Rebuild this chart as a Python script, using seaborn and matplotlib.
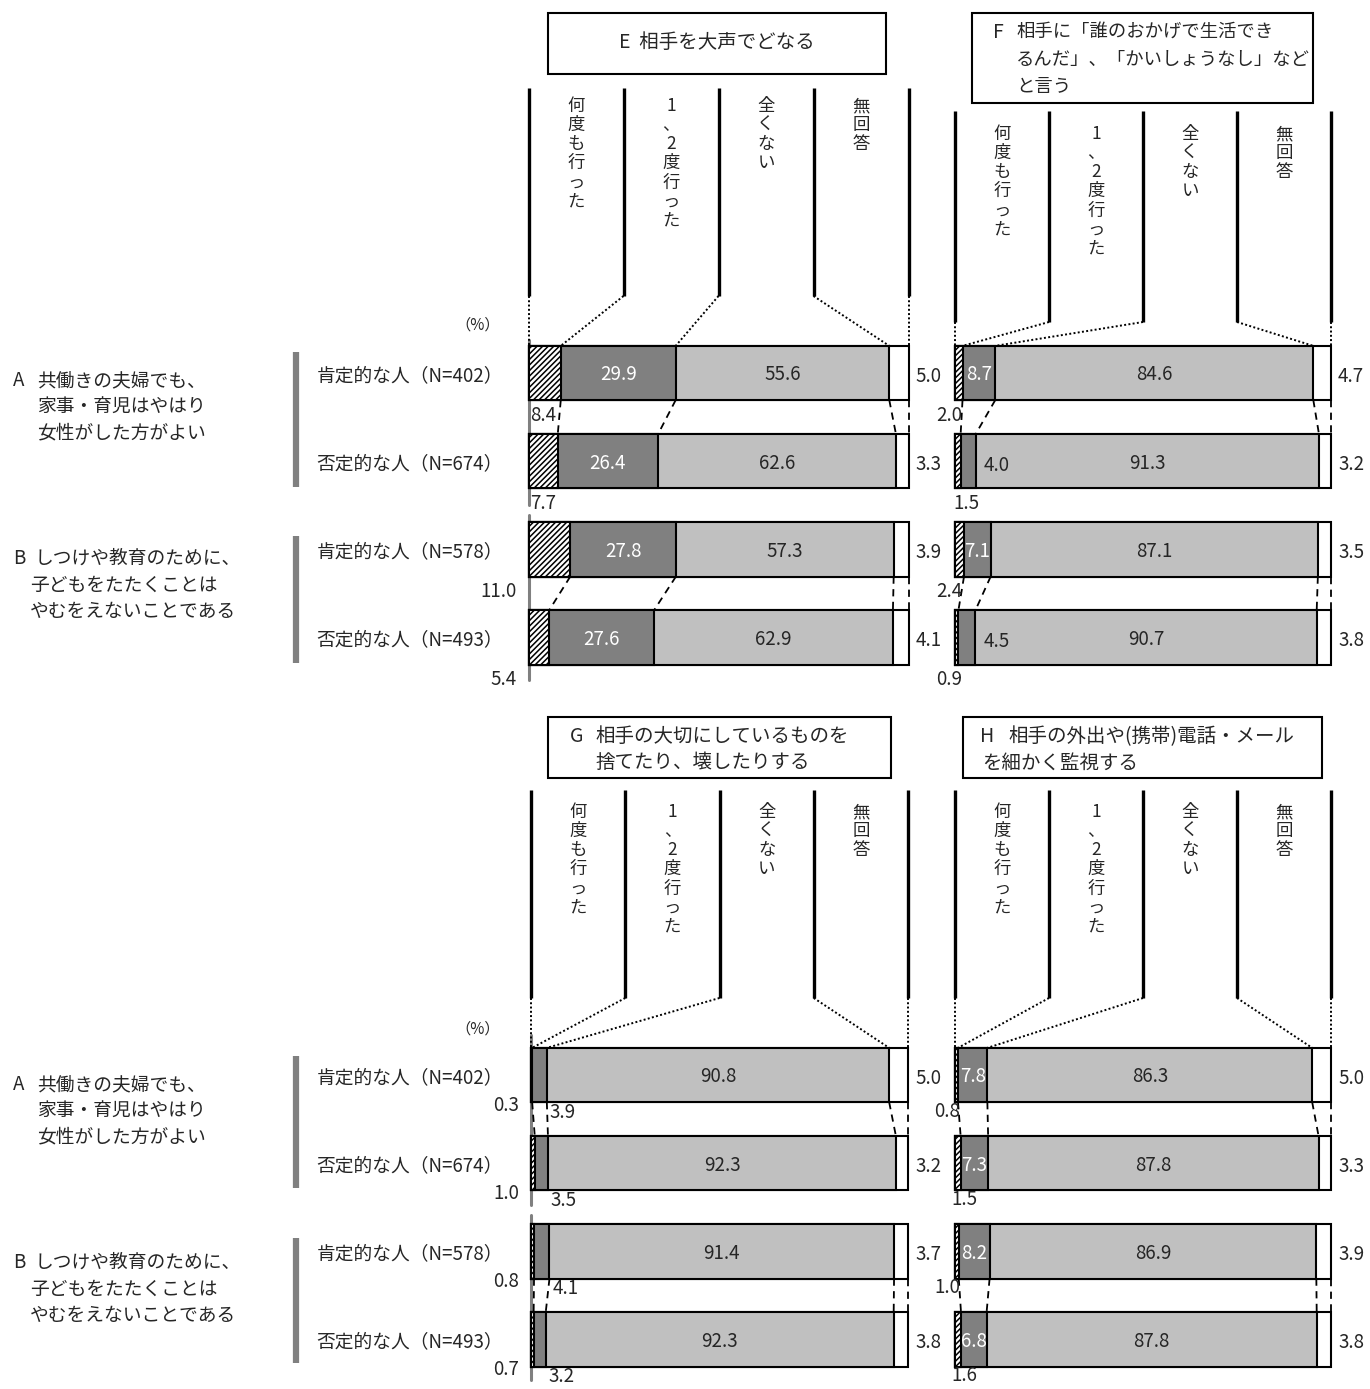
import numpy as np
import pandas as pd
import matplotlib
matplotlib.use("Agg")
import matplotlib.pyplot as plt
import seaborn as sns
from matplotlib.patches import Rectangle
from matplotlib.lines import Line2D
from matplotlib.transforms import Affine2D, blended_transform_factory

# Data
categories = ["何度も行った", "1、2度行った", "全くない", "無回答"]
row_keys = ["A肯定", "A否定", "B肯定", "B否定"]
row_labels = ["肯定的な人（N=402）", "否定的な人（N=674）",
              "肯定的な人（N=578）", "否定的な人（N=493）"]
group_a = ["共働きの夫婦でも、", "家事・育児はやはり", "女性がした方がよい"]
group_b = ["しつけや教育のために、", "子どもをたたくことは", "やむをえないことである"]

values_e = [[8.4, 29.9, 55.6, 5.0], [7.7, 26.4, 62.6, 3.3],
            [11.0, 27.8, 57.3, 3.9], [5.4, 27.6, 62.9, 4.1]]
values_f = [[2.0, 8.7, 84.6, 4.7], [1.5, 4.0, 91.3, 3.2],
            [2.4, 7.1, 87.1, 3.5], [0.9, 4.5, 90.7, 3.8]]
values_g = [[0.3, 3.9, 90.8, 5.0], [1.0, 3.5, 92.3, 3.2],
            [0.8, 4.1, 91.4, 3.7], [0.7, 3.2, 92.3, 3.8]]
values_h = [[0.8, 7.8, 86.3, 5.0], [1.5, 7.3, 87.8, 3.3],
            [1.0, 8.2, 86.9, 3.9], [1.6, 6.8, 87.8, 3.8]]

title_e = ["相手を大声でどなる"]
title_f = ["相手に「誰のおかげで生活でき", "るんだ」、「かいしょうなし」など", "と言う"]
title_g = ["相手の大切にしているものを", "捨てたり、壊したりする"]
title_h = ["相手の外出や(携帯)電話・メール", "を細かく監視する"]

# Style / layout
W, H = 1370, 1389
S = 88.2            # px between bar rows
BAR_W = 0.615
BAR_H = BAR_W * S
seg_colors = ["white", "#808080", "#c0c0c0", "white"]
FS = 13.5

sns.set_theme(style="white")
plt.rcParams["font.family"] = ["Noto Sans CJK JP", "DejaVu Sans"]
plt.rcParams["hatch.linewidth"] = 1.1

fig = plt.figure(figsize=(W / 100, H / 100), dpi=100)
PX = Affine2D().scale(1 / W, -1 / H).translate(0, 1) + fig.transFigure

panels = [
    dict(name="E", vals=values_e, left=528.5, right=908.5, c0=373,
         col_top=88, col_bot=296, text_top=97, box=(548, 13, 886, 74),
         first_ha=["left", "left", "right", "right"], first_dx={"left": 2, "right": -12},
         first_dy=15, second=["in", "in", "in", "in"], second_dy=0,
         spine=[(340, 505), (515, 680)], ticks=True),
    dict(name="F", vals=values_f, left=955, right=1331, c0=373,
         col_top=111, col_bot=322, text_top=125, box=(972, 13, 1313, 103),
         first_ha=["right", "left", "right", "right"], first_dx={"left": -2, "right": 7},
         first_dy=15, second=["in", "right", "in", "right"], second_dy=0,
         spine=None, ticks=False),
    dict(name="G", vals=values_g, left=531, right=908, c0=1075,
         col_top=790, col_bot=998, text_top=803, box=(548, 717, 891, 778),
         first_ha=["right", "right", "right", "right"], first_dx={"left": 0, "right": -12},
         first_dy=3, second=["below"] * 4, second_dy=10,
         spine=[(1035, 1205), (1215, 1380)], ticks=True),
    dict(name="H", vals=values_h, left=955, right=1331, c0=1075,
         col_top=790, col_bot=998, text_top=803, box=(963, 717, 1322, 778),
         first_ha=["right", "left", "right", "left"], first_dx={"left": -4, "right": 5},
         first_dy=9, second=["in", "in", "in", "in"], second_dy=0,
         spine=None, ticks=False),
]

for p in panels:
    ax = fig.add_axes([p["left"] / W, 1 - (p["c0"] + 3.5 * S) / H,
                       (p["right"] - p["left"]) / W, 4 * S / H])
    v = np.array(p["vals"], float)
    w = v / v.sum(axis=1, keepdims=True) * 100
    cum = w.cumsum(axis=1)
    df = pd.DataFrame(cum, columns=categories)
    df["row"] = row_keys
    long = df.melt(id_vars="row", var_name="cat", value_name="end")

    # stacked bars: draw longest cumulative first
    for k in range(3, -1, -1):
        sub = long[long["cat"] == categories[k]]
        kw = dict(hatch="//////") if k == 0 else {}
        sns.barplot(data=sub, x="end", y="row", order=row_keys, orient="h",
                    color=seg_colors[k], saturation=1, edgecolor="black",
                    linewidth=1.5, width=BAR_W, errorbar=None, ax=ax, **kw)
    for patch in ax.patches:
        patch.set_clip_on(False)

    ax.set_xlim(0, 100)
    ax.set_ylim(3.5, -0.5)
    ax.set_xlabel("")
    ax.set_ylabel("")
    ax.set_xticks([])
    for s in ax.spines.values():
        s.set_visible(False)
    if p["ticks"]:
        ax.set_yticks(range(4), row_labels, fontsize=FS)
        ax.tick_params(axis="y", length=0, pad=(p["left"] - 503) * 0.72)
    else:
        ax.set_yticks([])

    tr = blended_transform_factory(ax.transData, PX)
    dx = lambda px: px * 100 / (p["right"] - p["left"])
    c0 = p["c0"]

    # gray axis line on left panels
    if p["spine"]:
        for y0, y1 in p["spine"]:
            ax.plot([0, 0], [y0, y1], color="#808080", lw=2.2, transform=tr,
                    clip_on=False, zorder=0)

    # value labels
    for r in range(4):
        yc = c0 + r * S
        yb = yc + BAR_H / 2
        ha = p["first_ha"][r]
        ax.text(dx(p["first_dx"][ha]), yb + p["first_dy"], f"{v[r, 0]:.1f}", ha=ha,
                va="center", fontsize=FS, transform=tr)
        mode = p["second"][r]
        if mode == "in":
            ax.text(cum[r, 0] + w[r, 1] / 2, yc + 2, f"{v[r, 1]:.1f}", ha="center",
                    va="center", color="white", fontsize=FS, transform=tr)
        elif mode == "right":
            ax.text(cum[r, 1] + dx(8), yc + 4, f"{v[r, 1]:.1f}", ha="left",
                    va="center", fontsize=FS, transform=tr)
        else:
            ax.text(cum[r, 1] + dx(3), yb + p["second_dy"], f"{v[r, 1]:.1f}", ha="left",
                    va="center", fontsize=FS, transform=tr)
        ax.text(cum[r, 1] + w[r, 2] / 2, yc + 2, f"{v[r, 2]:.1f}", ha="center",
                va="center", fontsize=FS, transform=tr)
        ax.text(cum[r, 3] + dx(7), yc + 3, f"{v[r, 3]:.1f}", ha="left",
                va="center", fontsize=FS, transform=tr)

    # dashed connectors between paired bars
    for r in (0, 2):
        yb = c0 + r * S + BAR_H / 2
        yt = c0 + (r + 1) * S - BAR_H / 2
        for k in range(4):
            ax.plot([cum[r, k], cum[r + 1, k]], [yb, yt], color="black", lw=1.3,
                    ls=(0, (4, 3)), transform=tr, clip_on=False)

    # column header lines, labels, dotted leaders
    ytop0 = c0 - BAR_H / 2
    for k in range(5):
        ax.plot([25 * k, 25 * k], [p["col_top"], p["col_bot"]], color="black", lw=2.4,
                solid_capstyle="butt", transform=tr, clip_on=False)
        x1 = 0 if k == 0 else cum[0, k - 1]
        ax.plot([25 * k, x1], [p["col_bot"], ytop0], color="black", lw=1.4,
                ls=(0, (1, 1.2)), transform=tr, clip_on=False)
    for k in range(4):
        ax.text(25 * k + 12.5, p["text_top"], "\n".join(categories[k]), ha="center",
                va="top", fontsize=12.5, linespacing=1.08, transform=tr)

    # title box
    x0, y0, x1, y1 = p["box"]
    fig.add_artist(Rectangle((x0, y0), x1 - x0, y1 - y0, transform=PX, fill=False,
                             edgecolor="black", lw=1.5))

# title texts
fig.text(717, 43, "E  " + title_e[0], transform=PX, ha="center", va="center", fontsize=14)
fig.text(993, 33, "F", transform=PX, va="center", fontsize=14)
for i, line in enumerate(title_f):
    fig.text(1016, 33 + 27 * i, line, transform=PX, va="center", fontsize=13.2)
fig.text(570, 737, "G", transform=PX, va="center", fontsize=14)
for i, line in enumerate(title_g):
    fig.text(595, 737 + 26 * i, line, transform=PX, va="center", fontsize=14)
fig.text(980, 737, "H", transform=PX, va="center", fontsize=14)
fig.text(1008, 737, title_h[0], transform=PX, va="center", fontsize=14)
fig.text(982, 763, title_h[1], transform=PX, va="center", fontsize=14)

# left-side group labels
for top in (0, 704):
    fig.text(500, 325 + top, "（%）", transform=PX, ha="right", va="center", fontsize=11)
    fig.text(13, 381 + top, "A", transform=PX, va="center", fontsize=FS)
    for i, line in enumerate(group_a):
        fig.text(37, 381 + top + 26 * i, line, transform=PX, va="center", fontsize=FS)
    fig.text(13, 558 + top, "B", transform=PX, va="center", fontsize=FS)
    for i, line in enumerate(group_b):
        fig.text(35 if i == 0 else 30, 558 + top + 27 * i, line, transform=PX,
                 va="center", fontsize=FS)

for y0, y1 in [(352, 487), (536, 663), (1056, 1188), (1238, 1363)]:
    fig.add_artist(Line2D([296, 296], [y0, y1], transform=PX, color="#808080", lw=4.5,
                          solid_capstyle="butt"))

fig.savefig("out.png", dpi=100, facecolor="white")
